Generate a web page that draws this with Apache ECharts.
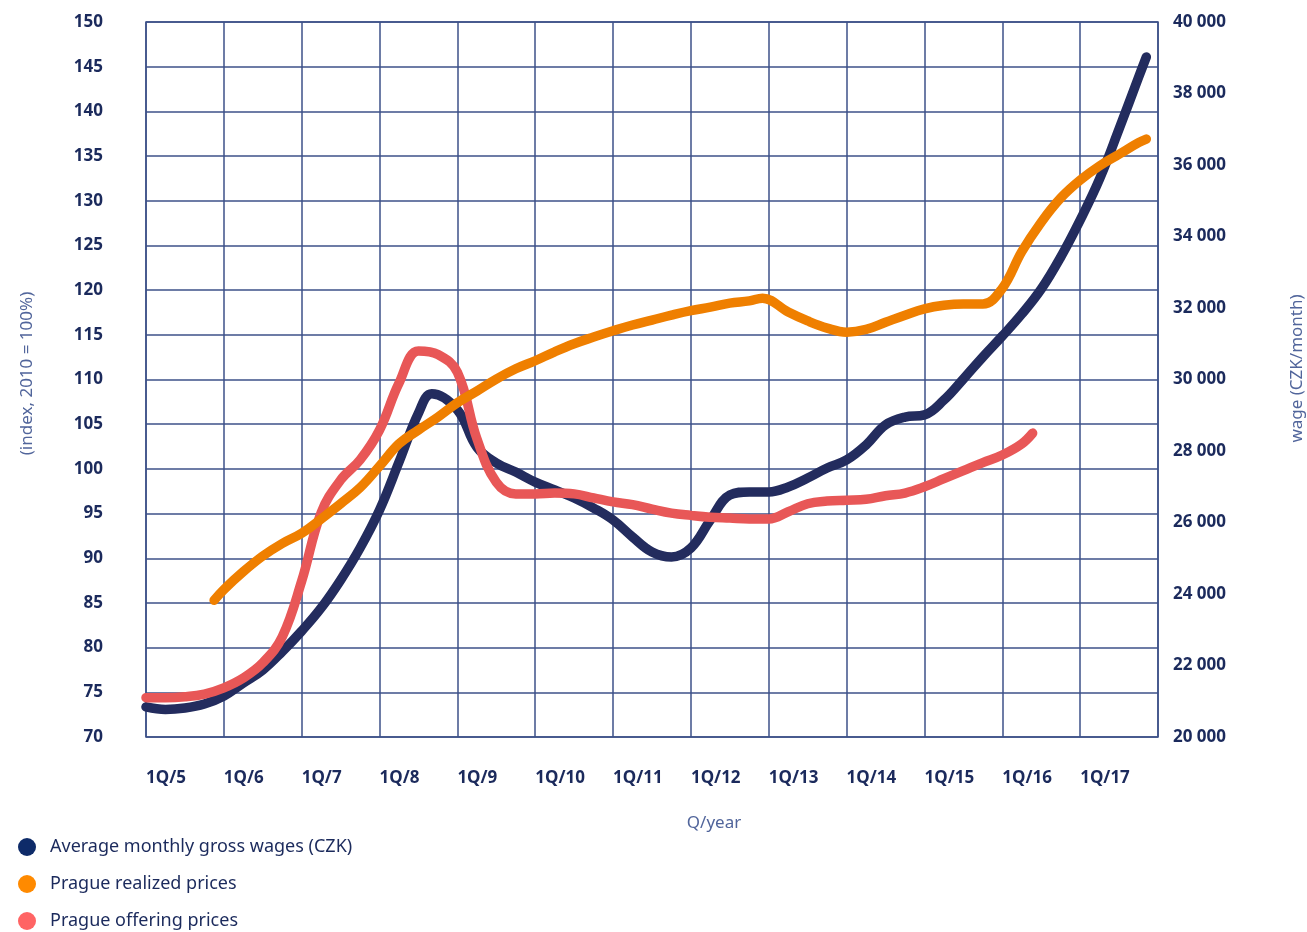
<!DOCTYPE html>
<html>
<head>
<meta charset="utf-8">
<script src="https://cdn.jsdelivr.net/npm/echarts@6/dist/echarts.min.js"></script>
<style>
html,body{margin:0;padding:0;background:#fff;}
#chart{width:1307px;height:932px;}
</style>
</head>
<body>
<div id="chart"></div>
<script>
// x positions (years; mostly quarters)
const wageYears = [2005,2005.25,2005.5,2005.75,2006,2006.25,2006.5,2006.75,2007,2007.25,2007.5,2007.75,2008,2008.25,2008.5,2008.67,2009,2009.25,2009.5,2009.75,2010,2010.25,2010.5,2010.75,2011,2011.25,2011.5,2011.75,2012,2012.25,2012.5,2012.75,2013,2013.25,2013.5,2013.75,2014,2014.25,2014.5,2014.75,2015,2015.25,2015.5,2015.75,2016,2016.25,2016.5,2016.75,2017,2017.25,2017.5,2017.75,2017.85];
const wageValues = [20840,20770,20810,20923,21147,21510,21875,22390,22965,23610,24390,25287,26350,27690,29060,29600,29150,28110,27665,27410,27130,26910,26685,26405,26070,25595,25175,25035,25285,26070,26770,26855,26855,26995,27245,27525,27750,28170,28730,28950,29010,29425,30015,30630,31215,31830,32530,33425,34460,35610,37005,38450,39020];

const realizedYears = [2005.875,2006,2006.25,2006.5,2006.75,2007,2007.25,2007.5,2007.75,2008,2008.25,2008.5,2008.75,2009,2009.25,2009.5,2009.75,2010,2010.25,2010.5,2010.75,2011,2011.25,2011.5,2011.75,2012,2012.25,2012.5,2012.75,2012.92,2013.25,2013.5,2013.75,2014,2014.25,2014.5,2014.75,2015,2015.25,2015.5,2015.75,2016,2016.25,2016.5,2016.75,2017,2017.25,2017.5,2017.75,2017.85];
const realizedValues = [85.3,86.5,88.5,90.25,91.65,92.8,94.4,96.1,97.9,100.3,102.8,104.35,105.8,107.4,108.7,110.05,111.2,112.1,113.1,114.0,114.75,115.45,116.1,116.65,117.2,117.7,118.1,118.55,118.8,119.1,117.55,116.55,115.75,115.3,115.6,116.4,117.2,117.9,118.3,118.45,118.45,120.2,124.3,127.6,130.3,132.3,133.9,135.2,136.5,136.9];

const offeringYears = [2005,2005.25,2005.5,2005.75,2006,2006.25,2006.5,2006.75,2007,2007.25,2007.5,2007.75,2008,2008.25,2008.5,2008.75,2009,2009.25,2009.5,2009.75,2010,2010.25,2010.5,2010.75,2011,2011.25,2011.5,2011.75,2012,2012.25,2012.5,2012.75,2013,2013.25,2013.5,2013.75,2014,2014.25,2014.5,2014.75,2015,2015.25,2015.5,2015.75,2016,2016.25,2016.39];
const offeringValues = [74.4,74.4,74.5,74.8,75.5,76.6,78.3,81.2,87.45,95.1,98.75,101.0,104.35,109.6,113.2,112.8,110.8,103.4,98.5,97.2,97.2,97.3,97.2,96.75,96.3,96.0,95.5,95.05,94.8,94.6,94.5,94.4,94.4,95.2,96.1,96.4,96.5,96.6,97.0,97.3,98.0,98.9,99.8,100.7,101.55,102.8,104.0];

const seriesNames = ['Average monthly gross wages (CZK)','Prague realized prices','Prague offering prices'];
const lineColors = ['#232c5e','#ef7f00','#e85757'];
const legendColors = ['#0e2b69','#ff8a00','#ff6464'];

const zip = (xs, ys) => xs.map((x, i) => [x, ys[i]]);

const gridColor = '#3d5188';
const labelColor = '#1b2a5c';
const nameColor = '#51659b';
const fontFam = '"Noto Sans", sans-serif';

const chart = echarts.init(document.getElementById('chart'), null, {renderer: 'canvas'});
chart.setOption({
  animation: false,
  backgroundColor: '#ffffff',
  grid: {left: 146, right: 149, top: 22, bottom: 195, show: true, borderColor: gridColor, borderWidth: 1.5,
         containLabel: false, outerBoundsMode: 'none'},
  legend: {
    orient: 'vertical', left: 18, top: 838, padding: 0, itemWidth: 18, itemHeight: 18, itemGap: 19,
    icon: 'circle',
    textStyle: {fontSize: 18, color: labelColor, fontFamily: fontFam, padding: [0,0,0,9]},
    data: seriesNames.map((n, i) => ({name: n, itemStyle: {color: legendColors[i]}}))
  },
  xAxis: {
    type: 'value', min: 2005, max: 2018, interval: 1,
    name: 'Q/year', nameLocation: 'middle', nameGap: 78,
    nameTextStyle: {fontSize: 17, color: nameColor, fontFamily: fontFam, padding: [0,0,0,124]},
    axisLine: {show: false}, axisTick: {show: false},
    splitLine: {show: true, lineStyle: {color: gridColor, width: 1.5}},
    axisLabel: {
      margin: 33, align: 'left', fontSize: 17, fontWeight: 'bold', color: labelColor, fontFamily: fontFam,
      formatter: v => v < 2018 ? '1Q/' + (v - 2000) : ''
    }
  },
  yAxis: [{
    type: 'value', min: 70, max: 150, interval: 5, position: 'left',
    name: '(index, 2010 = 100%)', nameLocation: 'middle', nameGap: 110, nameRotate: 90,
    nameTextStyle: {fontSize: 17, color: nameColor, fontFamily: fontFam, padding: [0,0,0,12]},
    axisLine: {show: false}, axisTick: {show: false},
    splitLine: {show: true, lineStyle: {color: gridColor, width: 1.5}},
    axisLabel: {margin: 43, fontSize: 17, fontWeight: 'bold', color: labelColor, fontFamily: fontFam}
  }, {
    type: 'value', min: 20000, max: 40000, interval: 2000, position: 'right',
    name: 'wage (CZK/month)', nameLocation: 'middle', nameGap: 131, nameRotate: 90,
    nameTextStyle: {fontSize: 17, color: nameColor, fontFamily: fontFam, padding: [0,0,0,22]},
    axisLine: {show: false}, axisTick: {show: false}, splitLine: {show: false},
    axisLabel: {margin: 15, fontSize: 17, fontWeight: 'bold', color: labelColor, fontFamily: fontFam,
      formatter: v => String(v).replace(/\B(?=(\d{3})+(?!\d))/g, ' ')}
  }],
  series: [{
    name: seriesNames[0], type: 'line', yAxisIndex: 1, data: zip(wageYears, wageValues),
    smooth: 0.4, showSymbol: false, z: 2, color: lineColors[0],
    lineStyle: {width: 9.5, color: lineColors[0], cap: 'round', join: 'round'}
  }, {
    name: seriesNames[1], type: 'line', yAxisIndex: 0, data: zip(realizedYears, realizedValues),
    smooth: 0.4, showSymbol: false, z: 4, color: lineColors[1],
    lineStyle: {width: 9.5, color: lineColors[1], cap: 'round', join: 'round'}
  }, {
    name: seriesNames[2], type: 'line', yAxisIndex: 0, data: zip(offeringYears, offeringValues),
    smooth: 0.4, showSymbol: false, z: 3, color: lineColors[2],
    lineStyle: {width: 9.5, color: lineColors[2], cap: 'round', join: 'round'}
  }]
});
</script>
</body>
</html>
